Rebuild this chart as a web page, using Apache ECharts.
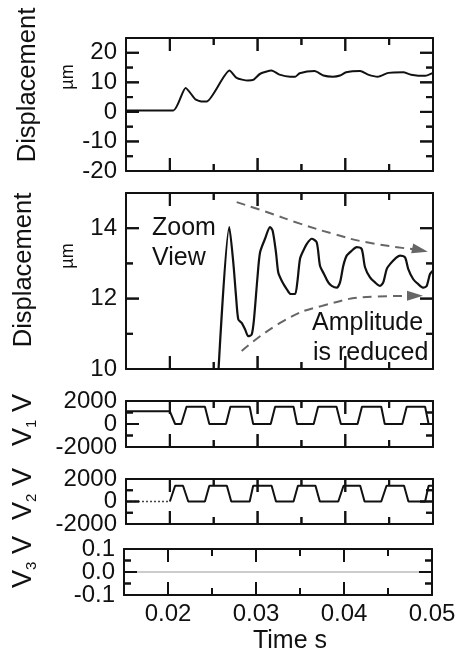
<!DOCTYPE html>
<html>
<head>
<meta charset="utf-8">
<script src="https://cdn.jsdelivr.net/npm/echarts@6/dist/echarts.min.js"></script>
<style>
html, body { margin: 0; padding: 0; background: #fff; }
#chart { width: 459px; height: 652px; }
</style>
</head>
<body>
<div id="chart"></div>
<script>
// time axis (s)
const timeMajor = [0.02, 0.03, 0.04];
const timeMinor = [0.025, 0.035, 0.045];
const timeLabels = [0.02, 0.03, 0.04, 0.05];

// displacement, full view (um)
const dispTime = [0.015, 0.0204, 0.0218, 0.0229, 0.0236, 0.0242, 0.0268, 0.0276, 0.0289, 0.0295, 0.0303, 0.0316,
  0.0325, 0.0337, 0.0343, 0.0348, 0.0365, 0.0375, 0.0386, 0.0394, 0.0401, 0.0417, 0.0426, 0.0437, 0.0449,
  0.0466, 0.0475, 0.0491, 0.05];
const dispValue = [0.5, 0.5, 8.1, 4.3, 3.5, 3.5, 14.0, 11.5, 10.6, 10.8, 12.9, 14.0,
  12.6, 11.9, 11.9, 13.1, 13.8, 12.3, 11.9, 12.3, 13.4, 13.8, 12.6, 11.9, 13.2,
  13.4, 12.6, 12.2, 13.2];
const dispTicks = [-20, -10, 0, 10, 20];
const dispMinor = [-15, -5, 5, 15];

// displacement, zoom view (um)
const zoomTime = [0.0254, 0.02678, 0.02723, 0.02754, 0.0278, 0.02819, 0.02857, 0.02894, 0.02933, 0.02959,
  0.02997, 0.03028, 0.03085, 0.03142, 0.03172, 0.0321, 0.03236, 0.03275, 0.03332, 0.03378, 0.03427, 0.03453,
  0.03484, 0.03521, 0.0356, 0.03617, 0.03674, 0.03712, 0.03757, 0.03806, 0.03845, 0.03902, 0.0394, 0.03977,
  0.04016, 0.04073, 0.0413, 0.04187, 0.04225, 0.04282, 0.04339, 0.04396, 0.04433, 0.04472, 0.0451, 0.04567,
  0.04624, 0.04681, 0.04718, 0.04775, 0.04832, 0.0489, 0.04928, 0.04966, 0.05];
const zoomValue = [9.3, 14.03, 13.03, 12.08, 11.41, 11.31, 11.13, 10.93, 10.98, 11.41,
  12.55, 13.31, 13.70, 14.03, 13.93, 13.31, 12.74, 12.51, 12.27, 12.13, 12.13, 12.46,
  13.13, 13.36, 13.55, 13.70, 13.60, 12.93, 12.70, 12.46, 12.36, 12.31, 12.46, 12.93,
  13.22, 13.36, 13.46, 13.41, 12.89, 12.60, 12.46, 12.36, 12.46, 12.84, 12.98, 13.13,
  13.22, 13.17, 12.84, 12.55, 12.41, 12.31, 12.36, 12.70, 12.8];
const zoomTicks = [10, 12, 14];
const zoomMinor = [11, 13];
// dashed envelope arrows (um)
const upperEnvTime = [0.02762, 0.03104, 0.03484, 0.03864, 0.04244, 0.04852];
const upperEnvValue = [14.74, 14.46, 14.13, 13.84, 13.60, 13.38];
const lowerEnvTime = [0.02819, 0.03293, 0.03731, 0.04358, 0.04795];
const lowerEnvValue = [10.51, 11.36, 11.79, 12.06, 12.08];

// voltages (V)
const v1Time = [0.015, 0.0200, 0.0206, 0.0213, 0.0219, 0.0240, 0.0245, 0.0264, 0.0269, 0.0291, 0.0295, 0.0315,
  0.0320, 0.0341, 0.0345, 0.0364, 0.0369, 0.0390, 0.0395, 0.0414, 0.0419, 0.0441, 0.0445, 0.0465, 0.0470,
  0.0491, 0.0495, 0.05];
const v1Value = [1100, 1100, 0, 0, 1500, 1500, 0, 0, 1500, 1500, 0, 0,
  1500, 1500, 0, 0, 1500, 1500, 0, 0, 1500, 1500, 0, 0, 1500,
  1500, 0, 0];
const v2Time = [0.015, 0.0200, 0.0206, 0.0215, 0.0221, 0.0240, 0.0245, 0.0265, 0.0270, 0.0291, 0.0295, 0.0316,
  0.0321, 0.0341, 0.0346, 0.0366, 0.0371, 0.0392, 0.0398, 0.0417, 0.0422, 0.0441, 0.0447, 0.0467, 0.0472,
  0.0491, 0.0495, 0.05];
const v2Value = [0, 0, 1400, 1400, 0, 0, 1400, 1400, 0, 0, 1400, 1400,
  0, 0, 1400, 1400, 0, 0, 1400, 1400, 0, 0, 1400, 1400, 0,
  0, 1400, 1400];
const v3Time = [0.015, 0.05];
const v3Value = [0, 0];
const voltTicks = [-2000, 2000];
const voltMid = [0];
const voltMinor = [-1000, 1000];
const v3Ticks = [-0.1, 0.1];
const v3Mid = [0];
const v3Minor = [-0.05, 0.05];

const FONT = '"Liberation Sans", Arial, sans-serif';
const INK = '#111';
const TIME_MIN = 0.015, TIME_MAX = 0.05;

const zip = (xs, ys) => xs.map((x, i) => [x, ys[i]]);

const grids = [
  { left: 126, right: 26, top: 38, height: 133 },
  { left: 126, right: 26, top: 193, height: 176 },
  { left: 126, right: 26, top: 401, height: 46 },
  { left: 126, right: 26, top: 479, height: 45 },
  { left: 124, right: 27, top: 549, height: 46 }
];

// major: labels + long ticks, mid: labels on a second axis + long ticks, minor: short ticks
const yDefs = [
  { min: -20, max: 25, major: dispTicks, mid: [], minor: dispMinor, fmt: v => String(v) },
  { min: 10, max: 15, major: zoomTicks, mid: [], minor: zoomMinor, fmt: v => String(v) },
  { min: -2000, max: 2000, major: voltTicks, mid: voltMid, minor: voltMinor, fmt: v => String(v) },
  { min: -2000, max: 2000, major: voltTicks, mid: voltMid, minor: voltMinor, fmt: v => String(v) },
  { min: -0.1, max: 0.1, major: v3Ticks, mid: v3Mid, minor: v3Minor, fmt: v => v.toFixed(1) }
];

const PER_GRID = 6;
const ink2 = () => ({ color: INK, width: 2 });
const labelFont = { fontSize: 24, fontFamily: FONT, color: INK };

// hidden helper axes: their 0 sits on the frame edge, so the visible axes stay on the frame
function helpers(g) {
  return [
    { type: 'value', gridIndex: g, show: false, min: 0, max: 1 },
    { type: 'value', gridIndex: g, show: false, min: -1, max: 0 }
  ];
}

function xAxesFor(g, withLabels) {
  const axes = [];
  ['bottom', 'top'].forEach((pos, k) => {
    axes.push({
      type: 'value', gridIndex: g, position: pos, min: TIME_MIN, max: TIME_MAX,
      splitLine: { show: false },
      axisLine: { onZero: true, onZeroAxisIndex: g * PER_GRID + 4 + k, lineStyle: ink2() },
      axisTick: { show: false },
      axisLabel: (pos === 'bottom' && withLabels) ? Object.assign({
        customValues: timeLabels, formatter: v => v.toFixed(2), margin: 7
      }, labelFont) : { show: false }
    });
  });
  return axes.concat([{ type: 'value', gridIndex: g, show: false, min: TIME_MIN, max: TIME_MAX },
    { type: 'value', gridIndex: g, show: false, min: TIME_MIN, max: TIME_MAX }], helpers(g));
}

function yAxesFor(g) {
  const d = yDefs[g];
  const axes = [];
  ['left', 'right'].forEach((pos, k) => {
    axes.push({
      type: 'value', gridIndex: g, position: pos, min: d.min, max: d.max,
      splitLine: { show: false },
      axisLine: { onZero: true, onZeroAxisIndex: g * PER_GRID + 4 + k, lineStyle: ink2() },
      axisTick: { show: false },
      axisLabel: pos === 'left' ? Object.assign({
        customValues: d.major, formatter: d.fmt, showMinLabel: true, showMaxLabel: true, margin: 9
      }, labelFont) : { show: false }
    });
  });
  // second left axis only carries the middle label of the narrow panels
  axes.push({
    type: 'value', gridIndex: g, position: 'left', min: d.min, max: d.max,
    splitLine: { show: false },
    axisLine: { show: false, onZero: true, onZeroAxisIndex: g * PER_GRID + 4 },
    axisTick: { show: false },
    axisLabel: d.mid.length ? Object.assign({ customValues: d.mid, formatter: d.fmt, margin: 9 }, labelFont) : { show: false }
  });
  axes.push({ type: 'value', gridIndex: g, show: false, min: d.min, max: d.max });
  return axes.concat(helpers(g));
}

let xAxis = [], yAxis = [];
grids.forEach((gr, g) => {
  xAxis = xAxis.concat(xAxesFor(g, g === grids.length - 1));
  yAxis = yAxis.concat(yAxesFor(g));
});

const lineBase = { type: 'line', showSymbol: false, symbol: 'none', silent: true, clip: true };
const onGrid = g => ({ xAxisIndex: g * PER_GRID, yAxisIndex: g * PER_GRID });

// tick specs per panel: value, direction, length
function tickSpecs(g) {
  const d = yDefs[g];
  const specs = [];
  timeMajor.forEach(v => specs.push({ dim: 'x', v: v, len: 13 }));
  timeMinor.forEach(v => specs.push({ dim: 'x', v: v, len: 7 }));
  d.major.concat(d.mid).forEach(v => specs.push({ dim: 'y', v: v, len: 13 }));
  d.minor.forEach(v => specs.push({ dim: 'y', v: v, len: 7 }));
  return specs;
}

// inward ticks on all four sides of a panel, placed through the panel's own scales
function tickSeries(g) {
  const d = yDefs[g];
  const specs = tickSpecs(g);
  return Object.assign({}, onGrid(g), {
    type: 'custom', silent: true, clip: false, z: 3,
    data: specs.map(s => s.dim === 'x' ? [s.v, d.min] : [TIME_MIN, s.v]),
    renderItem: (params, api) => {
      const s = specs[params.dataIndex];
      const cs = params.coordSys;
      const p = api.coord([api.value(0), api.value(1)]);
      const style = { stroke: INK, lineWidth: 2 };
      if (s.dim === 'x') {
        const bottom = cs.y + cs.height, top = cs.y;
        return { type: 'group', children: [
          { type: 'line', shape: { x1: p[0], y1: bottom, x2: p[0], y2: bottom - s.len }, style: style },
          { type: 'line', shape: { x1: p[0], y1: top, x2: p[0], y2: top + s.len }, style: style }
        ] };
      }
      const left = cs.x, right = cs.x + cs.width;
      return { type: 'group', children: [
        { type: 'line', shape: { x1: left, y1: p[1], x2: left + s.len, y2: p[1] }, style: style },
        { type: 'line', shape: { x1: right, y1: p[1], x2: right - s.len, y2: p[1] }, style: style }
      ] };
    }
  });
}

// dashed envelope with a triangular head on its last point
function envelope(ts, vs, headRotate) {
  const data = zip(ts, vs).map((p, i) => i === ts.length - 1
    ? { value: p, symbol: 'triangle', symbolSize: [10, 16], symbolRotate: headRotate }
    : { value: p });
  return Object.assign({}, lineBase, onGrid(1), {
    smooth: true, showSymbol: true, symbol: 'none',
    lineStyle: { color: '#666', width: 2, type: [9, 6] },
    itemStyle: { color: '#666' },
    data: data
  });
}

const series = [
  Object.assign({}, lineBase, onGrid(0), {
    smooth: 0.2, lineStyle: { color: INK, width: 2 }, data: zip(dispTime, dispValue)
  }),
  Object.assign({}, lineBase, onGrid(1), {
    smooth: 0.25, lineStyle: { color: INK, width: 2.2 }, data: zip(zoomTime, zoomValue)
  }),
  envelope(upperEnvTime, upperEnvValue, -102),
  envelope(lowerEnvTime, lowerEnvValue, -90),
  Object.assign({}, lineBase, onGrid(2), {
    lineStyle: { color: INK, width: 2 }, data: zip(v1Time, v1Value)
  }),
  Object.assign({}, lineBase, onGrid(3), {
    lineStyle: { color: '#444', width: 1.5, type: [2, 2] }, data: zip(v2Time.slice(0, 2), v2Value.slice(0, 2))
  }),
  Object.assign({}, lineBase, onGrid(3), {
    lineStyle: { color: INK, width: 2 }, data: zip(v2Time.slice(1), v2Value.slice(1))
  }),
  Object.assign({}, lineBase, onGrid(4), {
    lineStyle: { color: '#999', width: 1 }, data: zip(v3Time, v3Value)
  })
].concat(grids.map((gr, g) => tickSeries(g)));

function label(text, x, y, size, rot) {
  return {
    type: 'text', x: x, y: y, rotation: rot ? Math.PI / 2 : 0, silent: true,
    style: { text: text, fontSize: size, fontFamily: FONT, fill: INK, align: rot ? 'center' : 'left', verticalAlign: 'middle' }
  };
}

function voltLabel(sub, x, y) {
  return {
    type: 'text', x: x, y: y, rotation: Math.PI / 2, silent: true,
    style: {
      text: '{v|V}{s|' + sub + '}{v| V}', align: 'center', verticalAlign: 'middle',
      rich: {
        v: { fontSize: 27, fontFamily: FONT, fill: INK, lineHeight: 30 },
        s: { fontSize: 15, fontFamily: FONT, fill: INK, lineHeight: 30, verticalAlign: 'bottom' }
      }
    }
  };
}

const graphic = [
  label('Displacement', 28, 85, 25.5, true),
  label('\u00b5m', 68, 77, 18, true),
  label('Displacement', 24, 270, 25.5, true),
  label('\u00b5m', 68, 256, 18, true),
  voltLabel('1', 24, 420),
  voltLabel('2', 24, 494),
  voltLabel('3', 24, 562),
  label('Zoom', 152, 228, 25),
  label('View', 152, 258, 25),
  label('Amplitude', 312, 323, 25),
  label('is reduced', 313, 353, 25),
  { type: 'text', x: 290, y: 641, silent: true,
    style: { text: 'Time s', fontSize: 25, fontFamily: FONT, fill: INK, align: 'center', verticalAlign: 'middle' } }
];

const chart = echarts.init(document.getElementById('chart'));
chart.setOption({
  backgroundColor: '#fff',
  animation: false,
  grid: grids.map(g => Object.assign({ outerBoundsMode: 'none', containLabel: false }, g)),
  xAxis: xAxis,
  yAxis: yAxis,
  series: series,
  graphic: graphic
});

// frame ticks as graphic lines, positioned with the axes' own conversion
const seg = (x1, y1, x2, y2) => ({
  type: 'line', silent: true, z: 100,
  shape: { x1: x1, y1: y1, x2: x2, y2: y2 },
  style: { stroke: INK, lineWidth: 2 }
});
const W = chart.getWidth();
const tickLines = [];
grids.forEach((gr, g) => {
  const x0 = gr.left, x1 = W - gr.right, y0 = gr.top, y1 = gr.top + gr.height;
  tickSpecs(g).forEach(s => {
    if (s.dim === 'x') {
      const px = chart.convertToPixel({ xAxisIndex: g * PER_GRID }, s.v);
      tickLines.push(seg(px, y1, px, y1 - s.len), seg(px, y0, px, y0 + s.len));
    } else {
      const py = chart.convertToPixel({ yAxisIndex: g * PER_GRID }, s.v);
      tickLines.push(seg(x0, py, x0 + s.len, py), seg(x1, py, x1 - s.len, py));
    }
  });
});
chart.setOption({ graphic: graphic.concat(tickLines) });
</script>
</body>
</html>
